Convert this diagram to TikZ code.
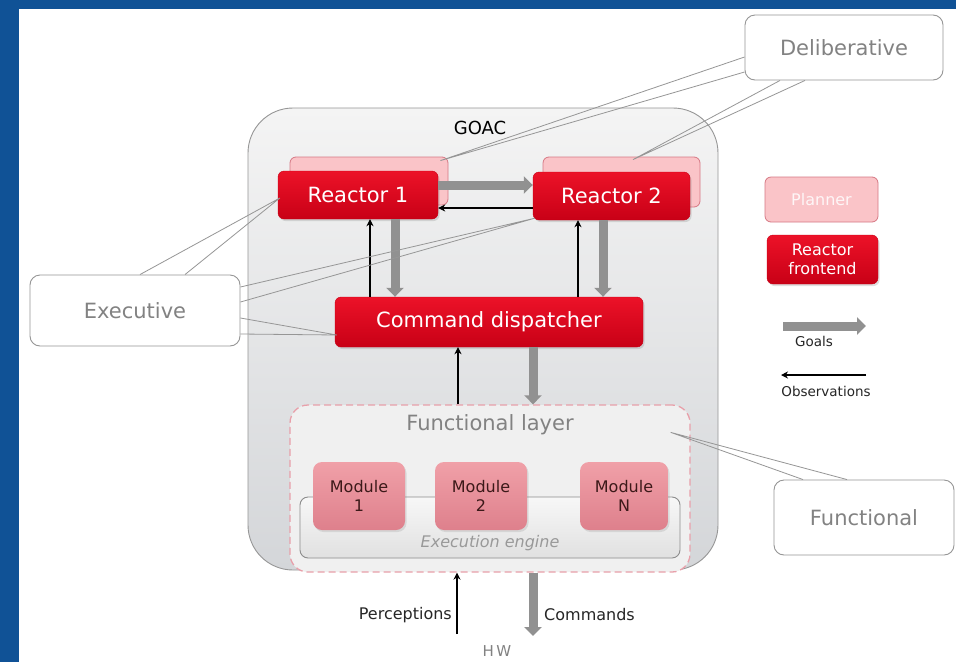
\documentclass[tikz,border=0pt]{standalone}
\usepackage{fontspec}
\setmainfont{DejaVu Sans}
\usetikzlibrary{arrows.meta,shadows}
\definecolor{bgblue}{RGB}{16,82,150}
\definecolor{goactop}{RGB}{244,244,244}
\definecolor{goacbot}{RGB}{212,214,217}
\definecolor{goacline}{RGB}{150,150,150}
\definecolor{redtop}{RGB}{236,18,40}
\definecolor{redbot}{RGB}{200,0,22}
\definecolor{plannerfill}{RGB}{250,196,200}
\definecolor{plannerline}{RGB}{214,120,132}
\definecolor{modtop}{RGB}{240,160,168}
\definecolor{modbot}{RGB}{222,128,140}
\definecolor{modtext}{RGB}{60,25,25}
\definecolor{dashpink}{RGB}{232,160,170}
\definecolor{goalgray}{RGB}{145,145,145}
\definecolor{calline}{RGB}{150,150,150}
\definecolor{caltext}{RGB}{130,130,130}
\tikzset{
  calbox/.style={draw=calline, fill=white, rounded corners=10pt, line width=0.9pt,
    text=caltext, font=\fontsize{21}{24}\selectfont, inner sep=0pt},
  ptr/.style={draw=calline, line width=0.8pt},
  reactor/.style={rounded corners=6pt, top color=redtop, bottom color=redbot, draw=redbot,
    text=white, font=\fontsize{21}{24}\selectfont, inner sep=0pt,
    drop shadow={opacity=0.25, shadow xshift=1.5pt, shadow yshift=-2pt}},
  planbox/.style={rounded corners=6pt, fill=plannerfill, draw=plannerline, line width=0.8pt, inner sep=0pt},
  modbox/.style={rounded corners=9pt, top color=modtop, bottom color=modbot, draw=none,
    text=modtext, font=\fontsize{16}{19}\selectfont, align=center, inner sep=0pt,
    minimum width=92pt, minimum height=68pt,
    drop shadow={opacity=0.2, shadow xshift=1.5pt, shadow yshift=-2pt}},
  goalarrow/.style={draw=goalgray, line width=9pt, -{Triangle[length=9pt,width=17pt]}},
  obsarrow/.style={draw=black, line width=1.5pt, -{Stealth[length=7pt,width=7pt]}},
  lbl/.style={inner sep=0pt, font=\fontsize{16}{19}\selectfont, text=black!85},
}
\begin{document}
\begin{tikzpicture}[x=1pt,y=-1pt]
\useasboundingbox (0,0) rectangle (956,662);
\fill[bgblue] (0,0) rectangle (956,662);
\fill[white] (19,9) rectangle (956,662);

% GOAC container
\node[draw=goacline, line width=0.9pt, rounded corners=45pt, top color=goactop, bottom color=goacbot,
  minimum width=470pt, minimum height=462pt, inner sep=0pt] (goac) at (483,339) {};
\node[inner sep=0pt, font=\fontsize{18}{21}\selectfont] (goact) at (480,128) {GOAC};

% functional layer
\node[draw=dashpink, dashed, dash pattern=on 7pt off 4pt, line width=1.3pt, rounded corners=18pt,
  fill=black!6, minimum width=400pt, minimum height=167pt, inner sep=0pt] (fl) at (490,488.5) {};
\node[inner sep=0pt, text=caltext, font=\fontsize{21}{24}\selectfont] (flt) at ([yshift=-20pt]fl.north) {Functional layer};
\node[draw=black!45, line width=0.9pt, rounded corners=8pt, top color=black!3, bottom color=black!12,
  minimum width=380pt, minimum height=61pt, inner sep=0pt] (ee) at (490,527.5) {};
\node[inner sep=0pt, text=black!40, font=\fontsize{16}{19}\selectfont\itshape] (eet) at ([yshift=15pt]ee.south) {Execution engine};
\node[modbox] (m1) at (359,496) {Module\\1};
\node[modbox] (m2) at (481,496) {Module\\2};
\node[modbox, minimum width=88pt] (mn) at (624,496) {Module\\N};

% planners and reactors
\node[planbox, minimum width=158pt, minimum height=48pt] (p1) at (369,181) {};
\node[planbox, minimum width=157pt, minimum height=50pt] (p2) at (621.5,182) {};
\node[reactor, minimum width=160pt, minimum height=48pt] (r1) at (358,195) {Reactor 1};
\node[reactor, minimum width=157pt, minimum height=48pt] (r2) at (611.5,196) {Reactor 2};
\node[reactor, minimum width=308pt, minimum height=50pt] (cmd) at (489,322) {Command dispatcher};

% arrows between reactors
\draw[goalarrow] ([yshift=10pt]r1.east) -- ([yshift=10pt]r1.east -| r2.west);
\draw[obsarrow] ([yshift=-12pt]r2.west) -- ([yshift=-12pt]r2.west -| r1.east);
% reactor 1 <-> dispatcher
\draw[goalarrow] ([xshift=37pt]r1.south) -- ([xshift=37pt]r1.south |- cmd.north);
\draw[obsarrow] ([xshift=12pt]r1.south |- cmd.north) -- ([xshift=12pt]r1.south);
% reactor 2 <-> dispatcher
\draw[obsarrow] ([xshift=-33.5pt]r2.south |- cmd.north) -- ([xshift=-33.5pt]r2.south);
\draw[goalarrow] ([xshift=-8.5pt]r2.south) -- ([xshift=-8.5pt]r2.south |- cmd.north);
% dispatcher <-> functional layer
\draw[obsarrow] ([xshift=-31pt]cmd.south |- fl.north) -- ([xshift=-31pt]cmd.south);
\draw[goalarrow] ([xshift=44pt]cmd.south) -- ([xshift=44pt]cmd.south |- fl.north);

% HW
\coordinate (pin) at (457,634);
\coordinate (cout) at (533,636);
\draw[obsarrow] (pin) -- (pin |- fl.south);
\draw[goalarrow] (cout |- fl.south) -- (cout);
\node[lbl, anchor=east] (perc) at (452,615) {Perceptions};
\node[lbl, anchor=west] (comm) at (544,615) {Commands};
\node[inner sep=0pt, text=caltext, font=\fontsize{15}{18}\selectfont] (hw) at (497,651) {H\,W};

% legend
\node[planbox, minimum width=113pt, minimum height=45pt, text=white!85!plannerfill,
  font=\fontsize{16}{19}\selectfont] (lp) at (821.5,199.5) {Planner};
\node[reactor, minimum width=111pt, minimum height=49pt, align=center,
  font=\fontsize{16}{19}\selectfont] (lr) at (822.5,259.5) {Reactor\\frontend};
\coordinate (ga) at (783,326);
\coordinate (gb) at (866,326);
\draw[goalarrow] (ga) -- (gb);
\node[lbl, font=\fontsize{13.5}{16}\selectfont] (goals) at (814,341) {Goals};
\coordinate (oa) at (866,375);
\coordinate (ob) at (781,375);
\draw[obsarrow] (oa) -- (ob);
\node[lbl, font=\fontsize{13.5}{16}\selectfont] (obs) at (826,391) {Observations};

% callout boxes
\node[calbox, minimum width=198pt, minimum height=65pt] (del) at (844,47.5) {Deliberative};
\node[calbox, minimum width=210pt, minimum height=71pt] (exe) at (135,310.5) {Executive};
\node[calbox, minimum width=180pt, minimum height=75pt] (fun) at (864,517.5) {Functional};

% callout pointers
\draw[ptr] ([yshift=-9.5pt]del.west) -- ([xshift=-8pt,yshift=-4pt]p1.north east) -- ([yshift=-24.5pt]del.west);
\draw[ptr] ([xshift=-64pt]del.south) -- ([xshift=11.5pt,yshift=-3pt]p2.north) -- ([xshift=-39pt]del.south);
\draw[ptr] ([xshift=5pt]exe.north) -- ([xshift=2pt,yshift=-3pt]r1.west) -- ([xshift=50pt]exe.north);
\draw[ptr] ([yshift=23.5pt]exe.east) -- ([xshift=2pt,yshift=2pt]r2.south west) -- ([yshift=8.5pt]exe.east);
\draw[ptr] ([yshift=-7.5pt]exe.east) -- ([xshift=2pt,yshift=-13pt]cmd.west) -- ([yshift=-23.5pt]exe.east);
\draw[ptr] ([xshift=-61pt]fun.north) -- ([xshift=-20pt,yshift=-28pt]fl.north east) -- ([xshift=-17pt]fun.north);
\end{tikzpicture}
\end{document}
